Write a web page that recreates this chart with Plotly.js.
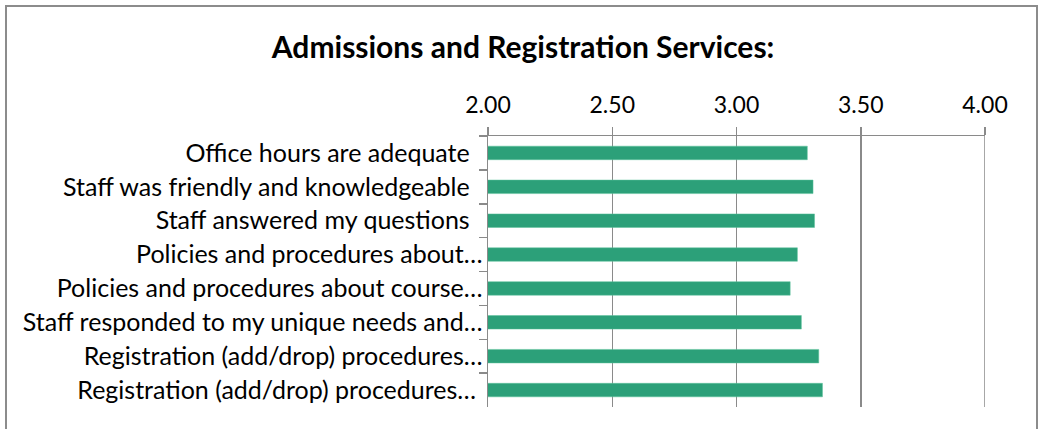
<!DOCTYPE html>
<html>
<head>
<meta charset="utf-8">
<script src="https://cdn.plot.ly/plotly-3.0.1.min.js"></script>
<style>
  html, body { margin: 0; padding: 0; background: #fff; }
  #wrap { position: relative; width: 1051px; height: 429px; overflow: hidden; }
  #chart { position: absolute; left: 0; top: 0; width: 1051px; height: 429px; }
  #frame { position: absolute; left: 5px; top: 5px; width: 1033px; height: 460px;
           border: 2px solid #8c8c8c; box-sizing: border-box; pointer-events: none; }
</style>
</head>
<body>
<div id="wrap">
  <div id="chart"></div>
  <div id="frame"></div>
</div>
<script>
const chartTitle = "Admissions and Registration Services:";
const categories = [
  "Office hours are adequate\u00a0\u00a0",
  "Staff was friendly and knowledgeable\u00a0\u00a0",
  "Staff answered my questions\u00a0\u00a0",
  "Policies and procedures about\u2026",
  "Policies and procedures about course\u2026",
  "Staff responded to my unique needs and\u2026",
  "Registration (add/drop) procedures\u2026",
  "Registration (add/drop) procedures\u2026 "
];
const values = [3.285, 3.308, 3.314, 3.245, 3.216, 3.261, 3.331, 3.346];
const tickValues = [2.0, 2.5, 3.0, 3.5, 4.0];
const tickLabels = ["2.00", "2.50", "3.00", "3.50", "4.00"];

const fontFam = "Lato, 'Open Sans', sans-serif";
const gridCol = "#8a8a8a";

const trace = {
  type: "bar",
  orientation: "h",
  y: categories,
  x: values,
  base: 0,
  marker: { color: "#2ca079", line: { color: "#5cc39c", width: 0.5 } },
  hoverinfo: "x+y"
};

const xMax = tickValues[tickValues.length - 1];

const layout = {
  width: 1051,
  height: 429,
  paper_bgcolor: "rgba(0,0,0,0)",
  plot_bgcolor: "rgba(0,0,0,0)",
  margin: { l: 488, r: 66, t: 136, b: 22, pad: 0 },
  showlegend: false,
  bargap: 0.6,
  title: {
    text: "<b>" + chartTitle + "</b>",
    font: { family: fontFam, size: 30, color: "#000" },
    x: 0.4977, xref: "container", xanchor: "center",
    y: 0.89, yref: "container", yanchor: "middle"
  },
  shapes: [{
    type: "line", layer: "below",
    xref: "x", yref: "paper",
    x0: xMax, x1: xMax, y0: 0, y1: 1,
    line: { color: gridCol, width: 1.5 }
  }],
  xaxis: {
    side: "top",
    range: [tickValues[0], xMax],
    tickmode: "array",
    tickvals: tickValues,
    ticktext: tickLabels,
    showgrid: true,
    gridcolor: gridCol,
    gridwidth: 1.5,
    showline: true,
    linecolor: gridCol,
    linewidth: 1.5,
    ticks: "outside",
    ticklen: 8,
    tickwidth: 1.5,
    tickcolor: gridCol,
    ticklabelstandoff: 4,
    zeroline: false,
    tickfont: { family: fontFam, size: 23, color: "#000" },
    fixedrange: true
  },
  yaxis: {
    type: "category",
    autorange: "reversed",
    showgrid: false,
    showline: true,
    linecolor: gridCol,
    linewidth: 1.5,
    ticks: "outside",
    tickson: "boundaries",
    ticklen: 8,
    tickwidth: 1.5,
    tickcolor: gridCol,
    ticklabelstandoff: -1,
    zeroline: false,
    tickfont: { family: fontFam, size: 25, color: "#000" },
    fixedrange: true
  }
};

Plotly.newPlot("chart", [trace], layout, { displayModeBar: false, staticPlot: true });
</script>
</body>
</html>
